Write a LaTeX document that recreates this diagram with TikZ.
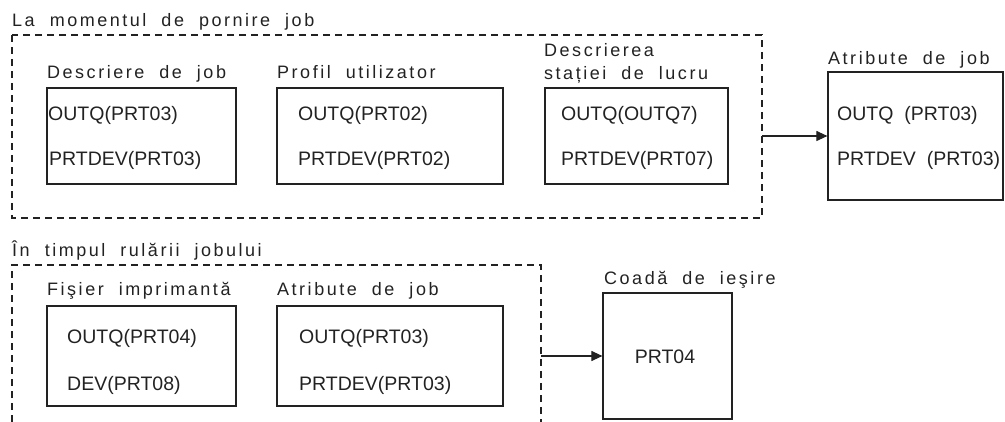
\documentclass[tikz,border=0pt]{standalone}
\usepackage{fontspec}
\setmainfont{Liberation Sans}
\newfontfamily\spacedfont[LetterSpace=14, WordSpace=2]{Liberation Sans}
\usetikzlibrary{arrows.meta}

\definecolor{ink}{HTML}{222222}

\tikzset{
  box/.style={draw=ink, line width=1.2pt, rectangle, inner sep=0pt},
  group/.style={draw=ink, line width=1.1pt, dash pattern=on 7pt off 5pt},
  caption/.style={anchor=base west, inner sep=0pt, text=ink,
    font=\spacedfont\fontsize{18}{21}\selectfont},
  entry/.style={anchor=base west, inner sep=0pt, text=ink,
    font=\fontsize{19.5}{23}\selectfont},
  flow/.style={draw=ink, line width=1.1pt,
    -{Triangle[length=11pt,width=10pt]}},
}

\begin{document}
\begin{tikzpicture}[x=1pt, y=-1pt]
\useasboundingbox (0,0) rectangle (1005,422);

% --- when the job starts ---
\node[caption] (startcap) at (12,27) {La momentul de pornire job};
\draw[group] (12,35) rectangle (762,218);
\coordinate (startout) at (762,136);

\node[caption] (jobdcap) at (47,79) {Descriere de job};
\node[box, minimum width=189pt, minimum height=96pt] (jobd) at (141.5,136) {};
\node[entry] (jobd1) at (48,120.5) {OUTQ(PRT03)};
\node[entry] (jobd2) at (49,165.5) {PRTDEV(PRT03)};

\node[caption] (usrcap) at (277,79) {Profil utilizator};
\node[box, minimum width=226pt, minimum height=96pt] (usr) at (390,136) {};
\node[entry] (usr1) at (298,120.5) {OUTQ(PRT02)};
\node[entry] (usr2) at (298,165.5) {PRTDEV(PRT02)};

\node[caption] (wscap1) at (544,57) {Descrierea};
\node[caption] (wscap2) at (544,80) {stației de lucru};
\node[box, minimum width=183pt, minimum height=96pt] (ws) at (636.5,136) {};
\node[entry] (ws1) at (561,120.5) {OUTQ(OUTQ7)};
\node[entry] (ws2) at (561,165.5) {PRTDEV(PRT07)};

\node[caption] (attrcap) at (828,65) {Atribute de job};
\node[box, minimum width=175pt, minimum height=128pt] (attr) at (915.5,136) {};
\node[entry] (attr1) at (837,120.5) {OUTQ\ \ (PRT03)};
\node[entry] (attr2) at (837,165.5) {PRTDEV\ \ (PRT03)};

\draw[flow] (startout) -- (attr.west);

% --- while the job runs ---
\node[caption] (runcap) at (12,257) {În timpul rulării jobului};
\draw[group] (12,422) -- (12,265) -- (541,265) -- (541,422);
\coordinate (runout) at (541,356);

\node[caption] (prtfcap) at (47,295.5) {Fişier imprimantă};
\node[box, minimum width=189pt, minimum height=100pt] (prtf) at (141.5,356) {};
\node[entry] (prtf1) at (67,343.5) {OUTQ(PRT04)};
\node[entry] (prtf2) at (67,390.5) {DEV(PRT08)};

\node[caption] (jattrcap) at (277,295.5) {Atribute de job};
\node[box, minimum width=226pt, minimum height=100pt] (jattr) at (390,356) {};
\node[entry] (jattr1) at (299,343.5) {OUTQ(PRT03)};
\node[entry] (jattr2) at (299,390.5) {PRTDEV(PRT03)};

\node[caption] (outqcap) at (604,285) {Coadă de ieşire};
\node[box, minimum width=129pt, minimum height=126pt] (outq) at (667.5,356) {};
\node[text=ink, font=\fontsize{19.5}{23}\selectfont] (outqv) at (665,357) {PRT04};

\draw[flow] (runout) -- (outq.west);
\end{tikzpicture}
\end{document}
